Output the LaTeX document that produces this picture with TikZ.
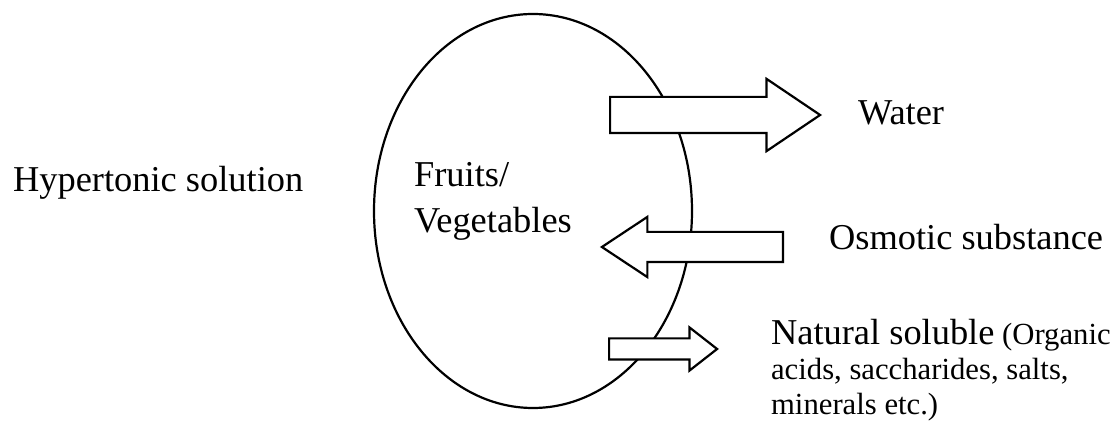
\documentclass[tikz,border=0pt]{standalone}
\usepackage{fontspec}
\setmainfont{Liberation Serif}
\usetikzlibrary{shapes.geometric,shapes.arrows}

\begin{document}
\begin{tikzpicture}[
    x=0.5pt, y=-0.5pt,
    line width=1.1pt,
    every node/.style={inner sep=0pt},
    body/.style={
        ellipse, draw, minimum width=159pt, minimum height=197pt
    },
    lbl/.style={
        anchor=base west, align=left, font=\fontsize{18.2}{23}\selectfont
    },
    smalllbl/.style={
        anchor=base west, align=left, font=\fontsize{15.35}{17.5}\selectfont
    },
    flux/.style={
        single arrow, draw, fill=white, inner xsep=0pt, anchor=tail
    },
]
\useasboundingbox (0,0) rectangle (1116,421);

% the piece of produce
\node[body] (fruit) at (533,211) {};

% exchange with the solution
\node[flux, inner ysep=8.5pt, single arrow head extend=9pt,
      single arrow tip angle=68, minimum height=105pt] (water) at (609,115) {};
\node[flux, shape border rotate=180, inner ysep=7pt, single arrow head extend=7.5pt,
      single arrow tip angle=67, minimum height=90.5pt] (osmo) at (784,247) {};
\node[flux, inner ysep=4.75pt, single arrow head extend=5.5pt,
      single arrow tip angle=76, minimum height=54pt] (solub) at (608,349) {};

% labels (base = last line)
\node[lbl] (hyper) at (12,192) {Hypertonic solution};
\node[lbl] (fv) at (413,233) {Fruits/\\Vegetables};
\node[lbl] (wlbl) at (857,125) {Water};
\node[lbl] (olbl) at (828,250) {Osmotic substance};
\node[smalllbl] (slbl) at (770,415)
    {{\fontsize{18.2}{17.5}\selectfont Natural soluble} (Organic\\acids, saccharides, salts,\\minerals etc.)};

\end{tikzpicture}
\end{document}
